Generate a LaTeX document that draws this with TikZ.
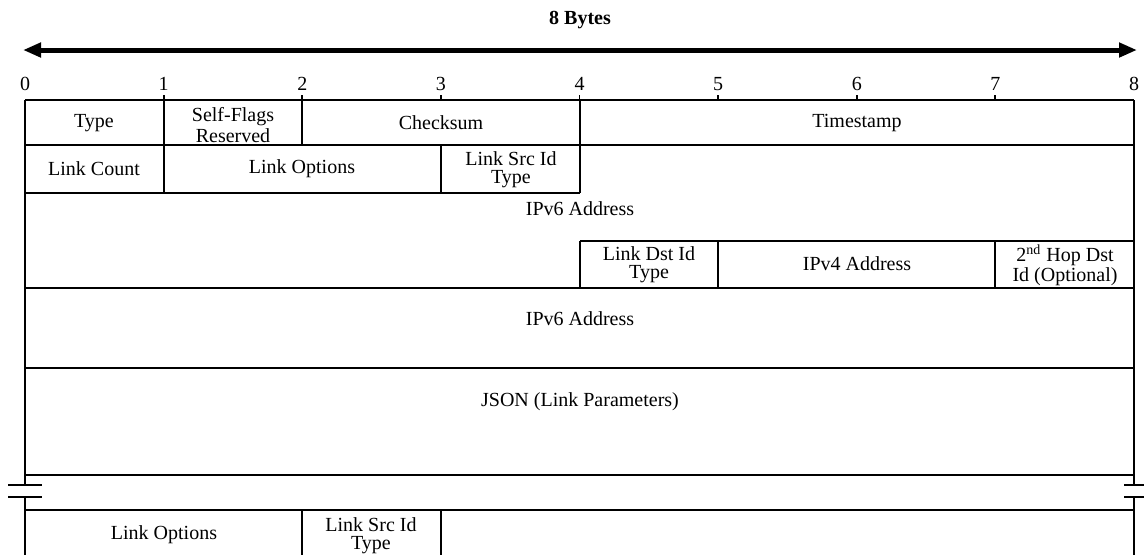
\documentclass[tikz,border=0pt]{standalone}
\usepackage{fontspec}
\setmainfont{Liberation Serif}
\usetikzlibrary{arrows.meta}

\tikzset{
  field/.style={font=\fontsize{10pt}{9pt}\selectfont, align=center, inner sep=0pt},
  rule/.style={line width=0.9pt},
  brk/.style={line width=1.3pt}
}

\begin{document}
\begin{tikzpicture}[x=0.5pt,y=-0.5pt]
\useasboundingbox (0,0) rectangle (1144,554);

% overall width
\node[field,font=\fontsize{10pt}{9pt}\selectfont\bfseries] (width) at (580,20) {8 Bytes};
\coordinate (arrL) at (23,50);
\coordinate (arrR) at (1137,50);
\draw[line width=2.5pt,{Triangle[length=9pt,width=7pt]}-{Triangle[length=9pt,width=7pt]}] (arrL) -- (arrR);

% byte scale
\foreach \i in {0,...,8} {
  \pgfmathsetmacro\bx{25+138.625*\i}
  \node[field] (b\i) at (\bx,84) {\i};
}
\foreach \i in {1,...,7} {
  \pgfmathsetmacro\bx{25+138.625*\i}
  \draw[rule] (\bx,95) -- (\bx,100);
}

% outer frame with break
\draw[rule] (25,100) -- (1134,100);
\draw[rule] (25,100) -- (25,485);
\draw[rule] (25,497) -- (25,560);
\draw[rule] (1134,100) -- (1134,485);
\draw[rule] (1134,497) -- (1134,560);
\draw[brk] (8,485) -- (42,485);
\draw[brk] (8,497) -- (42,497);
\draw[brk] (1124,485) -- (1150,485);
\draw[brk] (1124,497) -- (1150,497);

% rows
\draw[rule] (25,145) -- (1134,145);
\draw[rule] (25,193) -- (580,193);
\draw[rule] (580,241) -- (1134,241);
\draw[rule] (25,288) -- (1134,288);
\draw[rule] (25,368) -- (1134,368);
\draw[rule] (25,475) -- (1134,475);
\draw[rule] (25,510) -- (1134,510);

% field borders
\draw[rule] (164,100) -- (164,193);
\draw[rule] (302,100) -- (302,145);
\draw[rule] (580,100) -- (580,193);
\draw[rule] (441,145) -- (441,193);
\draw[rule] (580,241) -- (580,288);
\draw[rule] (718,241) -- (718,288);
\draw[rule] (995,241) -- (995,288);
\draw[rule] (302,510) -- (302,560);
\draw[rule] (441,510) -- (441,560);

% field names
\node[field] (type) at (94,123) {Type};
\node[field] (flags) at (233,125) {Self-Flags\\Reserved};
\node[field] (csum) at (441,123) {Checksum};
\node[field] (tstamp) at (857,123) {Timestamp};
\node[field] (lcount) at (94,169) {Link Count};
\node[field] (lopt) at (302,169) {Link Options};
\node[field] (lsrc) at (511,170) {Link Src Id\\Type};
\node[field] (ipsrc) at (580,209) {IPv6 Address};
\node[field] (ldst) at (649,265) {Link Dst Id\\Type};
\node[field] (ipvfour) at (857,264) {IPv4 Address};
\node[field] (hop) at (1065,265) {2\textsuperscript{nd} Hop Dst\\Id (Optional)};
\node[field] (ipdst) at (580,319) {IPv6 Address};
\node[field] (json) at (580,402) {JSON (Link Parameters)};
\node[field] (loptb) at (164,535) {Link Options};
\node[field] (lsrcb) at (371,536) {Link Src Id\\Type};
\end{tikzpicture}
\end{document}
